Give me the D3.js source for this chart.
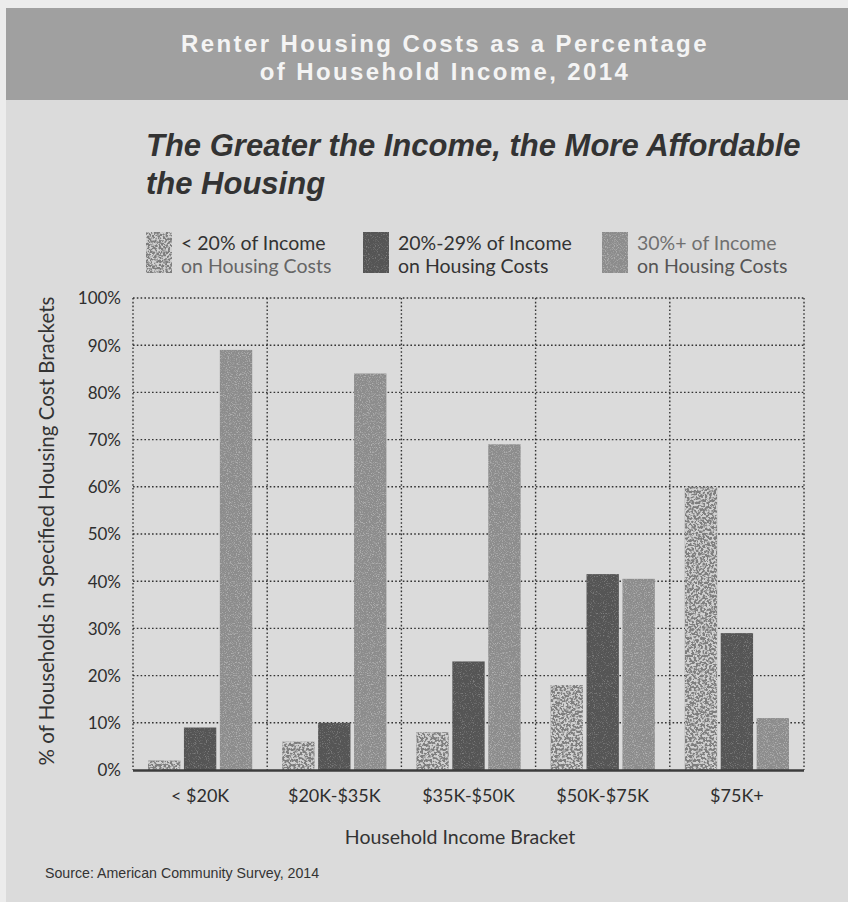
<!DOCTYPE html>
<html>
<head>
<meta charset="utf-8">
<script src="https://cdn.jsdelivr.net/npm/d3@7"></script>
<style>
  html, body { margin: 0; padding: 0; background: #ececec; }
  svg { display: block; }
</style>
</head>
<body>
<div id="chart"></div>
<script>
// Income brackets (x categories)
const brackets = ["< $20K", "$20K-$35K", "$35K-$50K", "$50K-$75K", "$75K+"];
// Share of renter households by housing-cost burden, per bracket (%)
const under20 = [2, 6, 8, 18, 60];
const from20to29 = [9, 10, 23, 41.5, 29];
const over30 = [89, 84, 69, 40.5, 11];
// Series labels (two lines each in the legend)
const seriesLabels = [
  ["< 20% of Income", "on Housing Costs"],
  ["20%-29% of Income", "on Housing Costs"],
  ["30%+ of Income", "on Housing Costs"]
];
const yTicks = [0, 10, 20, 30, 40, 50, 60, 70, 80, 90, 100];

const W = 848, H = 902;
const svg = d3.select("#chart").append("svg").attr("width", W).attr("height", H);
const defs = svg.append("defs");

// Grain / speckle textures for the bar fills
function grain(id, freq, slope, intercept, color, opacity) {
  const f = defs.append("filter").attr("id", id)
    .attr("x", 0).attr("y", 0).attr("width", 1).attr("height", 1);
  f.append("feTurbulence").attr("type", "fractalNoise")
    .attr("baseFrequency", freq).attr("numOctaves", 2).attr("seed", 7).attr("result", "noise");
  f.append("feColorMatrix").attr("in", "noise").attr("type", "matrix")
    .attr("values", `0 0 0 0 ${color}  0 0 0 0 ${color}  0 0 0 0 ${color}  ${slope} 0 0 0 ${intercept}`)
    .attr("result", "spots");
  f.append("feComponentTransfer").attr("in", "spots").attr("result", "spotsA")
    .append("feFuncA").attr("type", "linear").attr("slope", opacity);
  f.append("feComposite").attr("in", "spotsA").attr("in2", "SourceGraphic")
    .attr("operator", "in").attr("result", "clipped");
  const m = f.append("feMerge");
  m.append("feMergeNode").attr("in", "SourceGraphic");
  m.append("feMergeNode").attr("in", "clipped");
}
grain("speckle", 0.45, 6, -2.6, 0.78, 0.75);
grain("grainLight", 0.9, 4, -2.0, 0.75, 0.35);
grain("grainDark", 0.9, 4, -2.2, 0.5, 0.3);

const seriesFill = ["#7e7e7e", "#555555", "#8c8c8c"];
const seriesFilter = ["url(#speckle)", "url(#grainDark)", "url(#grainLight)"];

// Page background and title banner
svg.append("rect").attr("x", 6).attr("y", 100).attr("width", W - 6).attr("height", H - 100).attr("fill", "#dbdbdb");
svg.append("rect").attr("x", 6).attr("y", 8).attr("width", W - 6).attr("height", 92).attr("fill", "#a0a0a0");

const bannerLines = ["Renter Housing Costs as a Percentage", "of Household Income, 2014"];
svg.selectAll("text.banner").data(bannerLines).join("text")
  .attr("class", "banner")
  .attr("x", 445).attr("y", (d, i) => 52 + i * 28)
  .attr("text-anchor", "middle")
  .attr("font-family", "Liberation Sans, Arial, sans-serif")
  .attr("font-weight", "bold").attr("font-size", 24).attr("letter-spacing", 2.4)
  .attr("fill", "#f4f4f4")
  .text(d => d);

// Subtitle
const subLines = ["The Greater the Income, the More Affordable", "the Housing"];
svg.selectAll("text.sub").data(subLines).join("text")
  .attr("class", "sub")
  .attr("x", 146).attr("y", (d, i) => 156 + i * 38)
  .attr("font-family", "Liberation Sans, Arial, sans-serif")
  .attr("font-weight", "bold").attr("font-style", "italic").attr("font-size", 31)
  .attr("fill", "#333")
  .text(d => d);

// Scales
const margin = { left: 133, right: 804, top: 298, bottom: 770 };
const x0 = d3.scaleBand().domain(brackets).range([margin.left, margin.right]).padding(0);
const seriesIdx = [0, 1, 2];
const x1 = d3.scaleBand().domain(seriesIdx)
  .range([15, x0.bandwidth() - 15]).paddingInner(0.1).paddingOuter(0);
const y = d3.scaleLinear().domain([0, 100]).range([margin.bottom, margin.top]);

const font = "Lato, 'Open Sans', sans-serif";

// Dotted grid: horizontal lines at each tick, vertical lines at bracket boundaries
const grid = svg.append("g").attr("stroke", "#333").attr("stroke-width", 1.4)
  .attr("stroke-dasharray", "1.6,2.2").attr("fill", "none");
grid.selectAll("line.h").data(yTicks.filter(t => t > 0)).join("line")
  .attr("x1", margin.left).attr("x2", margin.right)
  .attr("y1", d => y(d)).attr("y2", d => y(d));
const bounds = brackets.map(b => x0(b)).concat([margin.right]);
grid.selectAll("line.v").data(bounds).join("line")
  .attr("x1", d => d).attr("x2", d => d)
  .attr("y1", margin.top).attr("y2", margin.bottom);

// Bars
const seriesData = [under20, from20to29, over30];
const groups = svg.append("g").selectAll("g").data(brackets).join("g")
  .attr("transform", d => `translate(${x0(d)},0)`);
groups.selectAll("rect").data((d, gi) => seriesIdx.map(s => ({ s, v: seriesData[s][gi] })))
  .join("rect")
  .attr("x", d => x1(d.s))
  .attr("width", x1.bandwidth())
  .attr("y", d => y(d.v))
  .attr("height", d => y(0) - y(d.v))
  .attr("fill", d => seriesFill[d.s])
  .attr("filter", d => seriesFilter[d.s]);

// Baseline
svg.append("line").attr("x1", margin.left).attr("x2", margin.right)
  .attr("y1", y(0) + 0.5).attr("y2", y(0) + 0.5)
  .attr("stroke", "#3c3c3c").attr("stroke-width", 2.6);

// Y axis labels
const yAxis = d3.axisLeft(y).tickValues(yTicks).tickFormat(d => d + "%").tickSize(0).tickPadding(0);
const yg = svg.append("g").attr("transform", `translate(121,0)`).call(yAxis);
yg.select(".domain").remove();
yg.selectAll("text").attr("font-family", font).attr("font-size", 17).attr("fill", "#2e2e2e")
  .attr("dy", "0.35em");

// X axis labels
const xAxis = d3.axisBottom(x0).tickSize(0).tickPadding(0);
const xg = svg.append("g").attr("transform", `translate(0,789)`).call(xAxis);
xg.select(".domain").remove();
xg.selectAll("text").attr("font-family", font).attr("font-size", 18).attr("fill", "#2e2e2e")
  .attr("dy", "0.71em");

// Axis titles
svg.append("text")
  .attr("transform", `translate(54,531) rotate(-90)`)
  .attr("text-anchor", "middle")
  .attr("font-family", font).attr("font-size", 20.5).attr("fill", "#333")
  .text("% of Households in Specified Housing Cost Brackets");
svg.append("text")
  .attr("x", 460).attr("y", 844).attr("text-anchor", "middle")
  .attr("font-family", font).attr("font-size", 19.5).attr("fill", "#333")
  .text("Household Income Bracket");

// Legend
const legendX = [146, 363, 602];
const legendTextColor = [["#333", "#666"], ["#333", "#333"], ["#707070", "#555"]];
const leg = svg.append("g").selectAll("g").data(seriesIdx).join("g")
  .attr("transform", d => `translate(${legendX[d]},232)`);
leg.append("rect").attr("width", 26).attr("height", 41)
  .attr("fill", d => seriesFill[d]).attr("filter", d => seriesFilter[d]);
leg.each(function (s) {
  d3.select(this).selectAll("text").data(seriesLabels[s]).join("text")
    .attr("x", 35).attr("y", (d, i) => 18 + i * 23)
    .attr("font-family", font).attr("font-size", 19.5)
    .attr("fill", (d, i) => legendTextColor[s][i])
    .text(d => d);
});

// Source note
svg.append("text")
  .attr("x", 45).attr("y", 878)
  .attr("font-family", "Liberation Sans, Arial, sans-serif").attr("font-size", 14.2).attr("fill", "#333")
  .text("Source: American Community Survey, 2014");
</script>
</body>
</html>
